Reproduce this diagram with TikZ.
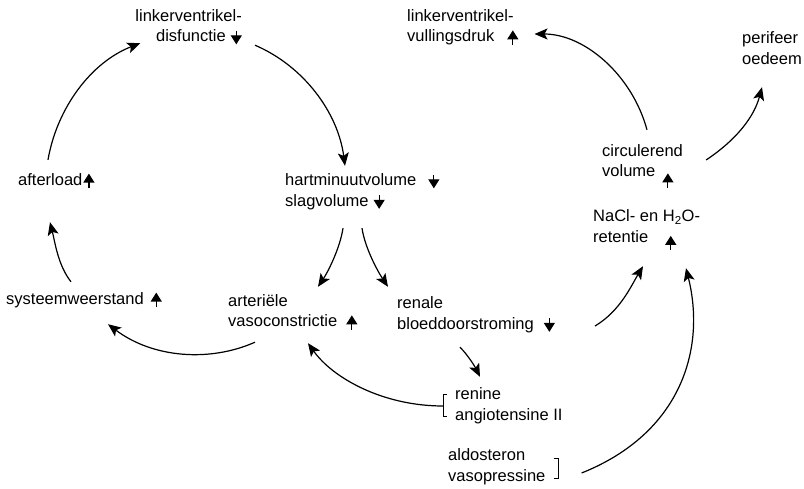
\documentclass[tikz,border=0pt]{standalone}
\usepackage{fontspec}
\setmainfont{Liberation Sans}
\usetikzlibrary{arrows.meta}

% small up / down arrows behind a label
\newcommand{\incr}[1][4pt]{\hspace{#1}\tikz[baseline=0pt]\draw[line width=1.2pt,-{Triangle[length=9pt,width=11pt]}] (0pt,-3pt) -- (0pt,11.5pt);}
\newcommand{\decr}[1][4pt]{\hspace{#1}\tikz[baseline=0pt]\draw[line width=1.2pt,-{Triangle[length=9pt,width=11pt]}] (0pt,11pt) -- (0pt,-2.5pt);}

\begin{document}
\begin{tikzpicture}[x=1pt,y=-1pt,
  lbl/.style={font=\fontsize{16.5}{20.5}\selectfont, inner sep=0pt, anchor=west, align=left},
  conn/.style={line width=1.2pt, -{Stealth[length=13pt,width=11pt,inset=3pt]}},
  brk/.style={line width=0.9pt}]
\useasboundingbox (0,0) rectangle (804,489);

% left loop
\node[lbl,anchor=east,align=right] (lvd) at (242,27.5) {\strut linkerventrikel-\\\strut disfunctie\decr[5pt]};
\node[lbl] (hmv) at (285,192) {\strut hartminuutvolume\decr[12pt]\\\strut slagvolume\decr[5pt]};
\node[lbl] (aft) at (18,181) {\strut afterload\incr[1pt]};
\node[lbl] (sys) at (6,300) {\strut systeemweerstand\incr[7pt]};
\node[lbl] (art) at (228,312.5) {\strut arteriële\\\strut vasoconstrictie\incr[9pt]};

% kidney
\node[lbl] (ren) at (397,315) {\strut renale\\\strut bloeddoorstroming\decr[10pt]};
\node[lbl] (rng) at (455,406) {\strut renine\\\strut angiotensine II};
\node[lbl] (ald) at (448,467) {\strut aldosteron\\\strut vasopressine};

% right side
\node[lbl] (nac) at (593,228) {\strut NaCl- en H\textsubscript{2}O-\\\strut retentie\raisebox{-5pt}[0pt][0pt]{\incr[17pt]}};
\node[lbl] (cir) at (602,162.5) {\strut circulerend\\\strut volume\raisebox{-8pt}[0pt][0pt]{\incr[7pt]}};
\node[lbl] (lvv) at (407,27.5) {\strut linkerventrikel-\\\strut vullingsdruk\incr[13pt]};
\node[lbl] (per) at (742,50) {\strut perifeer\\\strut oedeem};

% brackets
\draw[brk] ([shift={(-8,-12)}]rng.west) -- ++(-4,0) -- ++(0,22) -- ++(4,0);
\draw[brk] ([shift={(8,-9)}]ald.east) -- ++(5,0) -- ++(0,20) -- ++(-5,0);

% loop arrows
\draw[conn] ([shift={(13,-3)}]lvd.south east) .. controls +(49,21) and +(-7,-53) .. ([shift={(60,-5.5)}]hmv.north west);
\draw[conn] ([shift={(30,-10.75)}]aft.north west) .. controls +(9,-52) and +(-49,19) .. ([shift={(5,-5)}]lvd.south west);
\draw[conn] ([shift={(65,-7.75)}]sys.north west) .. controls +(-13,-16.5) and +(5,20) .. ([shift={(32,30.75)}]aft.south west);
\draw[conn] ([shift={(58,15.5)}]hmv.south west) .. controls +(-3,20) and +(10,-15) .. ([shift={(90,-5)}]art.north west);
\draw[conn] ([shift={(77,15.5)}]hmv.south west) .. controls +(3,20) and +(-10,-15) .. ([shift={(-9,-7.5)}]ren.north west);
\draw[conn] ([shift={(27,9)}]art.south west) .. controls +(-45,20) and +(45,34) .. ([shift={(102,13.75)}]sys.south west);

% kidney arrows
\draw[conn] ([shift={(63,11.5)}]ren.south west) .. controls +(8,8) and +(-5,-10) .. ([shift={(25,-8.5)}]rng.north west);
\draw[conn] ([shift={(-12,0)}]rng.west) .. controls +(-60,0) and +(25,35) .. ([shift={(80,10)}]art.south west);
\draw[conn] ([shift={(40,11)}]ren.east) .. controls +(25,-15) and +(-12,20) .. ([shift={(50,17.5)}]nac.south west);
\draw[conn] ([shift={(36,6)}]ald.east) .. controls +(100,-40) and +(20,80) .. ([shift={(93,19.5)}]nac.south west);

% volume arrows
\draw[conn] ([shift={(45,-12)}]cir.north west) .. controls +(-15,-55) and +(50,0) .. ([shift={(16,6.5)}]lvv.east);
\draw[conn] ([shift={(23,-2.5)}]cir.east) .. controls +(30,-20) and +(-8,30) .. ([shift={(20,16.5)}]per.south west);

\end{tikzpicture}
\end{document}
